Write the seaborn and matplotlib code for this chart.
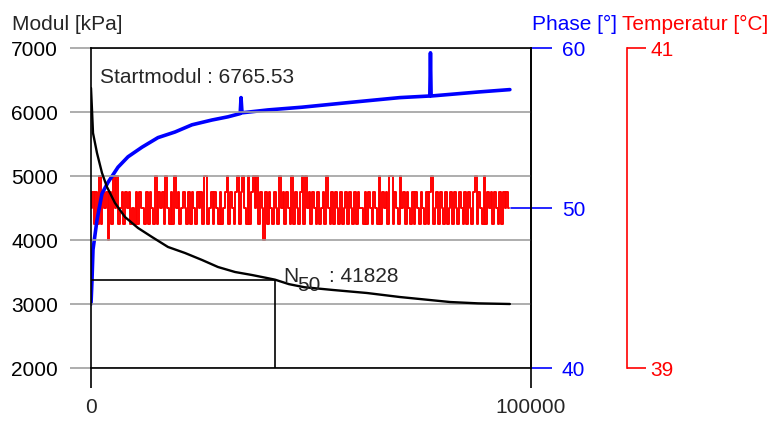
import numpy as np
import pandas as pd
import matplotlib
matplotlib.use("Agg")
import matplotlib.pyplot as plt
import seaborn as sns

# ---------------- data ----------------
modul_cycles = [0, 227, 455, 1364, 2500, 3636, 5455, 7727, 10680, 13860, 17500,
                21360, 25230, 28860, 32730, 36590, 40000, 41828, 45000, 48500,
                55000, 62700, 70200, 81600, 88000, 95200]
modul_values = [6375, 6031, 5672, 5359, 5047, 4828, 4578, 4359, 4188, 4047, 3891,
                3797, 3688, 3578, 3500, 3453, 3406, 3380, 3310, 3262,
                3219, 3172, 3109, 3031, 3010, 3000]

phase_cycles = [0, 227, 455, 1364, 2500, 3860, 6136, 8409, 11590, 15230, 19090,
                22950, 27500, 31140, 33900, 34100, 34320, 40230, 47950, 58900,
                70200, 77000, 77150, 77300, 81600, 88000, 95200]
phase_values = [44.0, 45.5, 47.4, 49.25, 50.9, 51.6, 52.55, 53.2, 53.8, 54.4, 54.75,
                55.2, 55.5, 55.7, 55.9, 56.9, 55.95, 56.13, 56.3, 56.6,
                56.9, 57.0, 59.7, 57.0, 57.1, 57.25, 57.4]

temp_values = [
    40.0, 40.1, 39.9, 40.1, 39.9, 40.2, 39.9, 40.1, 40.0, 40.1,
    39.8, 40.1, 39.9, 40.2, 40.0, 40.2, 39.9, 40.0, 40.1, 39.9,
    40.1, 40.0, 40.1, 39.9, 40.0, 39.9, 40.1, 39.9, 40.1, 40.0,
    40.0, 39.9, 40.1, 39.9, 40.1, 40.0, 39.9, 40.2, 39.9, 40.1,
    40.0, 40.1, 39.9, 40.2, 40.0, 39.9, 40.1, 39.9, 40.2, 40.0,
    40.1, 39.9, 40.0, 40.1, 40.0, 39.9, 40.1, 39.9, 40.1, 40.0,
    39.9, 40.1, 40.0, 40.1, 39.9, 40.2, 40.2, 39.9, 40.0, 40.1,
    39.9, 40.1, 40.0, 39.9, 40.1, 39.9, 40.0, 40.1, 40.2, 39.9,
    40.1, 40.0, 39.9, 40.1, 40.2, 39.9, 40.1, 40.2, 40.0, 39.9,
    40.2, 39.9, 40.1, 40.2, 40.0, 40.2, 39.9, 40.1, 40.0, 39.8,
    40.1, 39.9, 40.1, 40.0, 39.9, 40.1, 40.0, 39.9, 40.2, 40.0,
    40.1, 39.9, 40.1, 40.0, 39.9, 40.2, 39.9, 40.1, 40.0, 39.9,
    40.1, 40.2, 39.9, 40.2, 40.0, 40.1, 39.9, 40.1, 40.0, 39.9,
    40.1, 39.9, 40.0, 40.1, 39.9, 40.2, 40.0, 39.9, 40.1, 39.9,
    40.1, 40.0, 39.9, 40.1, 39.9, 40.0, 40.1, 39.9, 40.1, 40.0,
    39.9, 40.1, 39.9, 40.1, 40.0, 40.0, 39.9, 40.1, 39.9, 40.1,
    40.0, 39.9, 40.1, 40.0, 39.9, 40.2, 39.9, 40.1, 40.0, 40.1,
    39.9, 40.2, 40.2, 39.9, 40.1, 40.0, 39.9, 40.2, 40.0, 40.1,
    39.9, 40.1, 40.0, 39.9, 40.1, 39.9, 40.1, 40.0, 39.9, 40.1,
    40.0, 39.9, 40.1, 39.9, 40.1, 40.2, 39.9, 40.0, 40.1, 39.9,
    40.1, 40.0, 39.9, 40.1, 39.9, 40.0, 40.1, 39.9, 40.1, 40.0,
    39.9, 40.1, 40.0, 39.9, 40.1, 39.9, 40.1, 40.0, 39.9, 40.1,
    40.2, 39.9, 40.1, 40.0, 39.9, 40.2, 39.9, 40.1, 40.0, 40.1,
    39.9, 40.1, 40.0, 39.9, 40.1, 39.9, 40.1, 40.0, 40.1, 40.0,
]
temp_last_cycle = 95000
temp_cycles = np.linspace(0, temp_last_cycle, len(temp_values))

start_modul = 6765.53
n50_cycles = 41828
n50_modul = 3380

x_ticks = [0, 100000]
modul_ticks = [2000, 3000, 4000, 5000, 6000, 7000]
phase_ticks = [40, 50, 60]
temp_ticks = [39, 41]

# ---------------- style ----------------
sns.set_style("white")
plt.rcParams['font.family'] = ['Liberation Sans', 'DejaVu Sans']
FS = 15
BLUE = '#0000ff'
RED = '#ff0000'
GRID = '#a0a0a0'

W, H = 773, 426
fig = plt.figure(figsize=(W / 100, H / 100), dpi=100)
ax = fig.add_axes([91 / W, 58 / H, 440 / W, 320 / H])
ax2 = ax.twinx()
ax3 = ax.twinx()

# layer order: temperature bottom, phase middle, modul top
ax3.set_zorder(1)
ax2.set_zorder(2)
ax.set_zorder(3)
for a in (ax, ax2, ax3):
    a.patch.set_visible(False)

# ---------------- series ----------------
sns.lineplot(x=temp_cycles, y=temp_values, ax=ax3, color=RED, lw=1.4,
             estimator=None, sort=False, drawstyle='steps-mid')
sns.lineplot(x=phase_cycles, y=phase_values, ax=ax2, color=BLUE, lw=2.6,
             estimator=None, sort=False)
sns.lineplot(x=modul_cycles, y=modul_values, ax=ax, color='black', lw=1.7,
             estimator=None, sort=False)

# ---------------- main axis ----------------
ax.set_xlim(0, 100000)
ax.set_ylim(2000, 7000)
ax.set_xticks(x_ticks)
ax.set_xticklabels([str(v) for v in x_ticks])
ax.set_yticks(modul_ticks)
ax.set_yticklabels([str(v) for v in modul_ticks])
ax.set_xlabel('')
ax.set_ylabel('')
ax.grid(axis='y', color=GRID, lw=1.2)
ax.grid(axis='x', visible=False)
ax.set_axisbelow(True)
ax.tick_params(axis='y', direction='out', length=15.1, width=1.2, pad=8.6,
               color=GRID, labelsize=FS, labelcolor='black', left=True)
ax.tick_params(axis='x', direction='out', length=14.4, width=1.2, pad=7,
               color='black', labelsize=FS, bottom=True)
for t in ax.yaxis.get_major_ticks():
    if t.get_loc() in (modul_ticks[0], modul_ticks[-1]):
        t.tick1line.set_color('black')
for s in ax.spines.values():
    s.set_color('black')
    s.set_linewidth(1.2)

# N50 marker lines
ax.hlines(n50_modul, 0, n50_cycles, color='black', lw=1.2)
ax.vlines(n50_cycles, ax.get_ylim()[0], n50_modul, color='black', lw=1.2)

# annotations
ax.annotate(f"Startmodul : {start_modul:.2f}", xy=(0, 7000), xytext=(9, -35),
            textcoords='offset pixels', fontsize=FS, va='baseline', ha='left')
ax.annotate("N", xy=(n50_cycles, n50_modul), xytext=(8, -2),
            textcoords='offset pixels', fontsize=FS, va='baseline', ha='left')
ax.annotate("50", xy=(n50_cycles, n50_modul), xytext=(22, -11),
            textcoords='offset pixels', fontsize=FS, va='baseline', ha='left')
ax.annotate(f": {n50_cycles}", xy=(n50_cycles, n50_modul), xytext=(54, -2),
            textcoords='offset pixels', fontsize=FS, va='baseline', ha='left')

# ---------------- phase axis ----------------
ax2.set_ylim(40, 60)
ax2.set_yticks(phase_ticks)
ax2.set_yticklabels([str(v) for v in phase_ticks])
ax2.set_ylabel('')
ax2.tick_params(axis='y', direction='out', length=15.1, width=1.2, pad=7,
                colors=BLUE, labelsize=FS, right=True)
for k in ('left', 'top', 'bottom'):
    ax2.spines[k].set_visible(False)
ax2.spines['right'].set_color('black')
ax2.spines['right'].set_linewidth(1.2)
ax2.axhline(phase_ticks[1], xmin=0.955, xmax=1.0, color=BLUE, lw=1.2)
ax2.grid(False)

# ---------------- temperature axis ----------------
ax3.set_ylim(39, 41)
ax3.set_yticks(temp_ticks)
ax3.set_yticklabels([str(v) for v in temp_ticks])
ax3.set_ylabel('')
ax3.spines['right'].set_position(('axes', (627 - 91) / 440))
ax3.spines['right'].set_color(RED)
ax3.spines['right'].set_linewidth(1.2)
for k in ('left', 'top', 'bottom'):
    ax3.spines[k].set_visible(False)
ax3.tick_params(axis='y', direction='out', length=13.7, width=1.2, pad=3,
                colors=RED, labelsize=FS, right=True)
ax3.grid(False)

# ---------------- titles ----------------
base_y = 1 - 30 / H
fig.text(12 / W, base_y, "Modul [kPa]", fontsize=FS, va='baseline', ha='left')
fig.text(532 / W, base_y, "Phase [°]", fontsize=FS, va='baseline', ha='left', color=BLUE)
fig.text(622 / W, base_y, "Temperatur [°C]", fontsize=FS, va='baseline', ha='left', color=RED)

fig.savefig("out.png", dpi=100)
